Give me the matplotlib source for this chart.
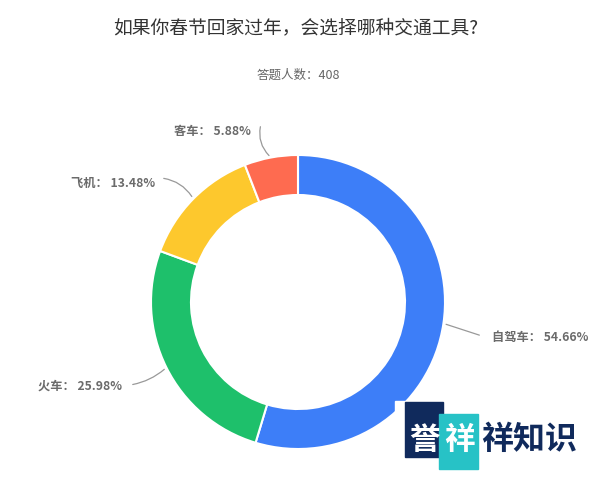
import numpy as np
import matplotlib.pyplot as plt
from matplotlib.patches import Rectangle

plt.rcParams['font.family'] = ['Noto Sans CJK SC', 'DejaVu Sans']

labels = ['自驾车', '火车', '飞机', '客车']
shares = [54.66, 25.98, 13.48, 5.88]
colors = ['#3d7ef8', '#1ec06b', '#fdc82d', '#fe6b50']
title = '如果你春节回家过年，会选择哪种交通工具?'
subtitle = '答题人数：408'

W, H = 600, 481
fig = plt.figure(figsize=(W / 100, H / 100), dpi=100)
ax = fig.add_axes([0, 0, 1, 1])

cx, cy, r = 298, H - 303, 147
wedges, _ = ax.pie(shares, colors=colors, startangle=90, counterclock=False,
                   center=(cx, cy), radius=r, frame=True,
                   wedgeprops=dict(width=40, edgecolor='white', linewidth=1.5))
ax.set_xlim(0, W)
ax.set_ylim(0, H)
ax.set_aspect('equal')
ax.axis('off')

# label positions (pixels from top-left) and curve bend per slice
text_pos = [(492, 337), (122, 386), (155, 183), (251, 131)]
aligns = ['left', 'right', 'right', 'right']
bends = [0.0, 0.15, -0.25, 0.3]
for w, lab, s, (tx, ty), ha, rad in zip(wedges, labels, shares, text_pos, aligns, bends):
    ang = np.deg2rad((w.theta1 + w.theta2) / 2)
    px, py = cx + r * np.cos(ang), cy + r * np.sin(ang)
    end_x = tx - 10 if ha == 'left' else tx + 8
    if lab == '客车':
        end_x, end_y = tx + 10, H - ty + 6
    elif lab == '飞机':
        end_x, end_y = tx + 6, H - ty + 4
    else:
        end_y = H - ty
    ax.annotate('', xy=(px, py), xytext=(end_x, end_y),
                arrowprops=dict(arrowstyle='-', color='#999999', lw=0.9,
                                connectionstyle=f'arc3,rad={rad}'))
    ax.text(tx, H - ty, f'{lab}： {s:.2f}%', ha=ha, va='center',
            fontsize=8.8, color='#6b6b6b', fontweight='bold')

ax.text(W / 2 - 4, H - 28, title, ha='center', va='center', fontsize=13.5, color='#333333')
ax.text(W / 2 - 2, H - 75, subtitle, ha='center', va='center', fontsize=9, color='#666666')

# watermark in the bottom right corner
ax.add_patch(Rectangle((395, 0), W - 395, H - 402, color='white', zorder=5))
ax.add_patch(Rectangle((405, H - 458), 38, 55, color='#102a5c', zorder=6))
ax.add_patch(Rectangle((439, H - 470), 39, 55, color='#27c2c6', zorder=6))
ax.text(424, H - 440, '誉', ha='center', va='center', fontsize=22, color='white',
        fontweight='heavy', style='italic', zorder=7)
ax.text(459, H - 440, '祥', ha='center', va='center', fontsize=22, color='white',
        fontweight='heavy', style='italic', zorder=7)
ax.text(481, H - 440, '祥知识', ha='left', va='center', fontsize=23, color='#102a5c',
        fontweight='heavy', zorder=7)

fig.savefig('out.png', dpi=100)
